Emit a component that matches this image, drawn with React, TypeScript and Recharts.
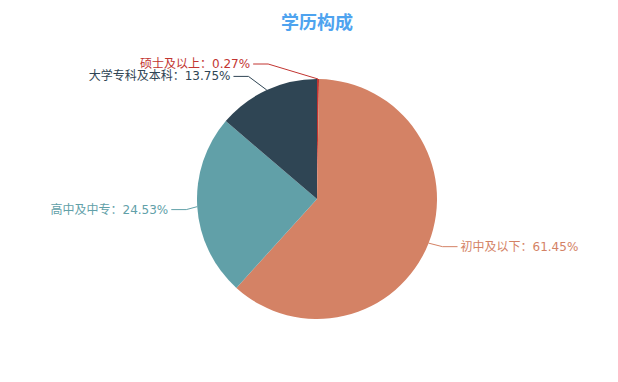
import React from 'react';
import { PieChart, Pie, Cell } from 'recharts';

const categories = ['硕士及以上', '初中及以下', '高中及中专', '大学专科及本科'];
const shares = [0.27, 61.45, 24.53, 13.75];
const colors = ['#c23531', '#d48265', '#61a0a8', '#2f4554'];
// label-line layout tweaks (shift of the bend point, px)
const bendShift: Record<string, [number, number]> = {
  '硕士及以上': [-50, 0],
  '大学专科及本科': [-12, 0],
  '高中及中专': [4, 2],
  '初中及以下': [0, -2],
};

const data = categories.map((name, i) => ({ name, value: shares[i] }));

const RAD = Math.PI / 180;
const FONT = "'DejaVu Sans', 'Noto Sans CJK SC', sans-serif";

const renderLabel = (props: any) => {
  const { cx, cy, midAngle, outerRadius, name, value, index } = props;
  const color = colors[index];
  const c = Math.cos(midAngle * RAD);
  const s = Math.sin(midAngle * RAD);
  const x0 = cx + outerRadius * c;
  const y0 = cy - outerRadius * s;
  const right = c > 0.01;
  const [dx, dy] = bendShift[name] || [0, 0];
  const x1 = cx + (outerRadius + 15) * c + dx;
  const y1 = cy - (outerRadius + 15) * s + dy;
  const x2 = x1 + (right ? 15 : -15);
  const tx = x2 + (right ? 3 : -3);
  return (
    <g>
      <polyline points={`${x0},${y0} ${x1},${y1} ${x2},${y1}`} fill="none" stroke={color} strokeWidth={1} />
      <text x={tx} y={y1} fill={color} fontSize={12} textAnchor={right ? 'start' : 'end'} dominantBaseline="central" fontFamily={FONT}>
        {`${name}：${value.toFixed(2)}%`}
      </text>
    </g>
  );
};

export default function App() {
  return (
    <div style={{ position: 'absolute', left: 0, top: 0, width: 618, height: 382, background: '#fff' }}>
      <div style={{ position: 'absolute', left: 0, top: 9, width: 634, textAlign: 'center', fontSize: 18, fontWeight: 'bold', color: '#4ea3ef', fontFamily: "'Noto Sans CJK SC', sans-serif", lineHeight: '24px' }}>
        学历构成
      </div>
      <PieChart width={618} height={382} margin={{ top: 0, right: 0, bottom: 0, left: 0 }}>
        <Pie
          data={data}
          dataKey="value"
          nameKey="name"
          cx={317}
          cy={199}
          outerRadius={120}
          startAngle={90}
          endAngle={-270}
          stroke="none"
          label={renderLabel}
          labelLine={false}
          isAnimationActive={false}
        >
          {data.map((d, i) => (
            <Cell key={d.name} fill={colors[i]} />
          ))}
        </Pie>
      </PieChart>
    </div>
  );
}
